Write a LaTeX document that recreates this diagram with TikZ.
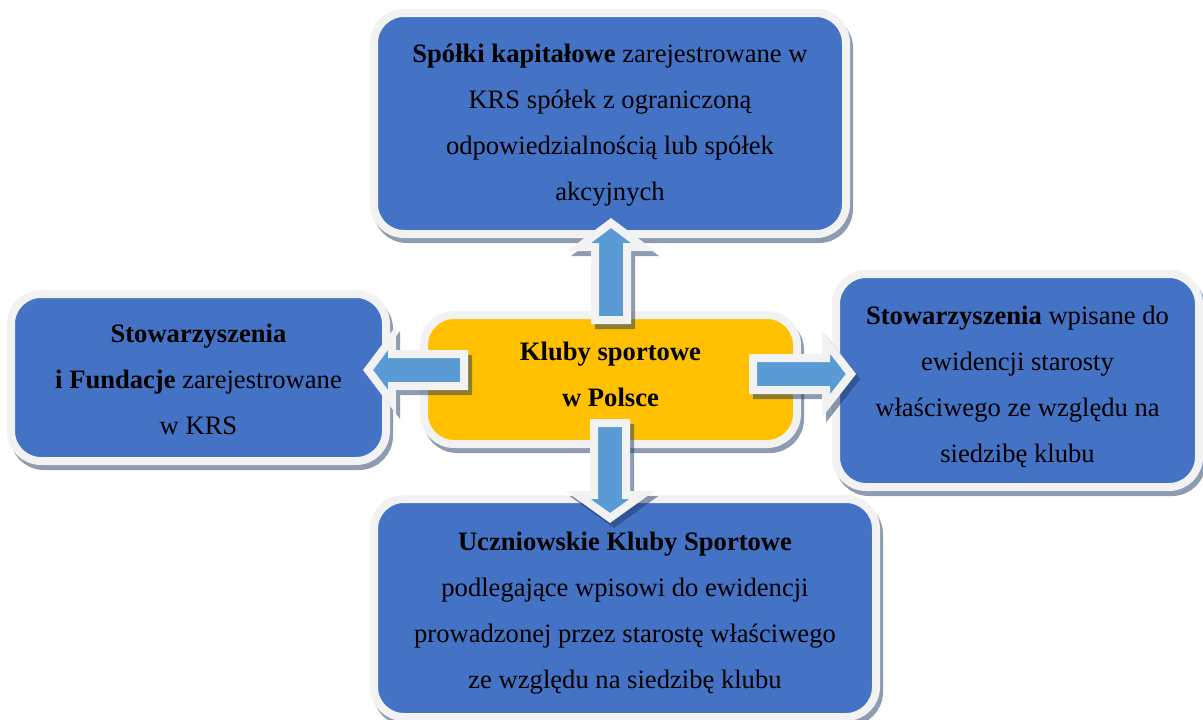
\documentclass[tikz,border=0pt]{standalone}
\usepackage{fontspec}
\setmainfont{Liberation Serif}
\definecolor{boxblue}{HTML}{4472C4}
\definecolor{clubyellow}{HTML}{FFC000}
\definecolor{arrowblue}{HTML}{5B9BD5}
\definecolor{rimgray}{HTML}{F2F2F2}
\definecolor{shadowgray}{HTML}{8F9BB1}
\definecolor{shadowdark}{HTML}{1F3864}
\begin{document}
\begin{tikzpicture}[x=1pt,y=-1pt,
  box/.style={rectangle, rounded corners=30pt, line width=8pt, draw=rimgray,
    inner sep=0pt,
    preaction={fill=shadowgray, draw=shadowgray,
      transform canvas={shift={(3pt,-5pt)}}}},
  bluebox/.style={box, fill=boxblue},
  hubbox/.style={box, fill=clubyellow},
  boxtext/.style={align=center, inner sep=0pt, text=black,
    font=\fontsize{26.6}{46}\selectfont},
  blockarrow/.style={line width=8pt, miter limit=20, line join=miter},
]
\useasboundingbox (0,0) rectangle (1203,720);
\fill[white] (0,0) rectangle (1203,720);

% outer category boxes
\node[bluebox, minimum width=472pt, minimum height=221pt] (capital) at (610,123.5) {};
\node[boxtext] (capitaltext) at ([yshift=-2pt]capital.center)
  {\textbf{Spółki kapitałowe} zarejestrowane w\\KRS spółek z ograniczoną\\odpowiedzialnością lub spółek\\akcyjnych};

\node[bluebox, minimum width=375pt, minimum height=167pt] (krs) at (198.5,377.5) {};
\node[boxtext] (krstext) at ([yshift=-2pt]krs.center)
  {\textbf{Stowarzyszenia}\\\textbf{i Fundacje} zarejestrowane\\w KRS};

\node[bluebox, minimum width=363pt, minimum height=213pt] (assoc) at (1017.5,380.5) {};
\node[boxtext] (assoctext) at ([yshift=-6pt]assoc.center)
  {\textbf{Stowarzyszenia} wpisane do\\ewidencji starosty\\właściwego ze względu na\\siedzibę klubu};

\node[bluebox, minimum width=502pt, minimum height=218pt] (school) at (625,608) {};
\node[boxtext] (schooltext) at ([yshift=-5pt]school.center)
  {\textbf{Uczniowskie Kluby Sportowe}\\podlegające wpisowi do ewidencji\\prowadzonej przez starostę właściwego\\ze względu na siedzibę klubu};

% central box
\node[hubbox, minimum width=373pt, minimum height=129pt] (hub) at (610.5,379.5) {};
\node[boxtext] (hubtext) at ([yshift=5pt]hub.center)
  {\textbf{Kluby sportowe}\\\textbf{w Polsce}};

% block arrow outlines
\def\uparrowpath{(595,320) -- (595,247) -- (579,247) -- (611,223) -- (643,247) -- (627,247) -- (627,320) -- cycle}
\def\downarrowpath{(594,423) -- (594,495) -- (578,495) -- (610,518) -- (642,495) -- (626,495) -- (626,423) -- cycle}
\def\leftarrowpath{(464,354) -- (392,354) -- (392,338) -- (368,370) -- (392,402) -- (392,386) -- (464,386) -- cycle}
\def\rightarrowpath{(753,358) -- (826,358) -- (826,342) -- (851,374) -- (826,406) -- (826,390) -- (753,390) -- cycle}

% arrow shadows
\begin{scope}[transparency group, opacity=0.5, shift={(4,5)}]
  \filldraw[blockarrow, shadowdark] \uparrowpath;
  \filldraw[blockarrow, shadowdark] \downarrowpath;
  \filldraw[blockarrow, shadowdark] \leftarrowpath;
  \filldraw[blockarrow, shadowdark] \rightarrowpath;
\end{scope}

% arrows from the hub to each category
\filldraw[blockarrow, fill=arrowblue, draw=rimgray] \uparrowpath;
\filldraw[blockarrow, fill=arrowblue, draw=rimgray] \downarrowpath;
\filldraw[blockarrow, fill=arrowblue, draw=rimgray] \leftarrowpath;
\filldraw[blockarrow, fill=arrowblue, draw=rimgray] \rightarrowpath;
\end{tikzpicture}
\end{document}
